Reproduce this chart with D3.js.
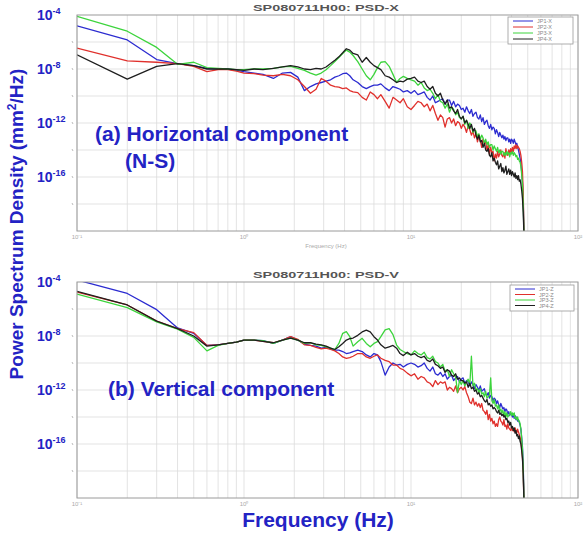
<!DOCTYPE html>
<html>
<head>
<meta charset="utf-8">
<script src="https://cdn.jsdelivr.net/npm/d3@7"></script>
<style>
  body { margin: 0; background: #fff; }
  svg { display: block; }
</style>
</head>
<body>
<svg id="chart" width="585" height="538"></svg>
<script>
// Frequency bins (Hz) shared by every spectrum
const freqHz = [
  0.1, 0.2, 0.3, 0.4, 0.5, 0.6, 0.7, 0.8, 0.9, 1.0,
  1.15, 1.3, 1.5, 1.7, 1.9, 2.1, 2.3, 2.5, 2.7, 2.9, 3.1, 3.3, 3.5, 3.7, 3.9,
  4.1, 4.3, 4.5, 4.8, 5.1, 5.4, 5.7, 6.0, 6.3, 6.6, 7.0, 7.4, 7.8, 8.2, 8.6, 9.0, 9.5, 10,
  10.5, 11, 11.5, 12, 12.5, 13, 13.5, 14, 14.5, 15,
  15.5, 16, 16.5, 17, 17.5, 18, 18.5, 19, 19.5, 20,
  20.5, 21, 21.5, 22, 22.5, 23, 23.5, 24, 24.5, 25,
  25.5, 26, 26.5, 27, 27.5, 28, 28.5, 29, 29.5, 30,
  30.5, 31, 31.5, 32, 32.5, 33, 33.5, 34, 34.5, 35,
  35.5, 36, 36.5, 37, 37.5, 38, 38.5, 39, 39.5, 40,
  40.5, 41, 41.5, 42, 42.5, 43, 43.5, 44, 44.5, 45,
  45.5, 46, 46.5, 47, 47.5
];

// Horizontal (N-S) component, log10 of PSD in mm^2/Hz
const psdX_JP1 = [
  -4.8, -5.85, -7.3, -7.6, -7.75, -7.95, -8.0, -8.0, -8.1, -8.2,
  -8.3, -8.4, -8.7, -8.3, -8.25, -8.6, -9.6, -9.3, -9.1, -9.0, -8.9, -8.8, -8.6, -8.5, -8.35,
  -8.3, -8.5, -8.8, -9.0, -9.3, -9.45, -9.3, -9.2, -9.2, -9.1, -9.4, -9.6, -9.3, -9.4, -9.5, -9.7, -9.6, -9.8,
  -9.6, -9.9, -9.8, -9.7, -10.1, -10.3, -10.0, -10.5, -10.4, -10.3,
  -10.2, -10.6, -10.3, -10.3, -10.7, -10.4, -10.8, -10.6, -10.7, -11.0,
  -10.9, -11.2, -10.8, -11.1, -11.3, -11.0, -11.5, -11.3, -11.2, -11.6,
  -11.7, -11.4, -11.9, -11.6, -12.1, -11.9, -11.8, -12.2, -12.4, -12.1,
  -12.5, -12.3, -12.4, -12.8, -12.5, -12.7, -13.0, -12.7, -12.9, -13.1,
  -12.9, -13.2, -13.0, -13.3, -13.1, -13.1, -13.4, -13.2, -13.5, -13.2,
  -13.3, -13.5, -13.2, -13.4, -13.6, -13.5, -13.8, -14.0, -14.3, -14.6,
  -15.0, -15.6, -16.4, -17.8, -20.5
];
const psdX_JP2 = [
  -6.45, -7.4, -7.5, -7.6, -7.8, -8.2, -8.05, -8.05, -8.15, -8.3,
  -8.35, -8.45, -8.5, -8.4, -8.5, -8.8, -9.3, -9.8, -9.5, -8.7, -8.9, -9.2, -9.3, -9.35, -9.45,
  -9.4, -9.6, -9.7, -9.75, -10.1, -10.3, -9.7, -9.9, -10.2, -9.9, -10.4, -10.9, -10.1, -10.3, -10.5, -10.2, -10.8, -11.0,
  -10.7, -10.4, -10.5, -10.8, -10.6, -11.1, -10.7, -11.3, -11.8, -11.4,
  -11.6, -12.3, -11.7, -11.6, -12.0, -11.7, -12.2, -11.9, -12.0, -12.4,
  -12.1, -12.3, -12.7, -12.2, -12.5, -12.9, -12.6, -13.1, -12.8, -13.4,
  -13.0, -13.3, -13.8, -13.2, -13.5, -13.4, -14.0, -13.6, -14.3, -13.8,
  -14.2, -14.1, -14.8, -14.3, -14.6, -14.1, -14.5, -14.3, -14.0, -14.4,
  -14.5, -14.2, -14.6, -13.9, -14.3, -14.4, -14.0, -14.3, -13.9, -14.2,
  -13.8, -14.1, -13.7, -13.9, -13.6, -13.9, -13.7, -13.8, -13.9, -14.1,
  -14.4, -14.9, -15.6, -17.2, -20.5
];
const psdX_JP3 = [
  -4.1, -5.2, -6.4, -7.65, -7.5, -7.9, -7.95, -8.0, -8.05, -8.05,
  -8.0, -8.0, -7.95, -7.85, -7.8, -7.95, -8.1, -8.3, -8.45, -8.3, -8.05, -7.75, -7.45, -7.15, -6.85,
  -6.6, -6.75, -7.0, -7.45, -8.0, -8.5, -8.8, -8.4, -7.9, -7.5, -7.45, -7.8, -8.4, -9.0, -8.7, -8.55, -8.7, -8.8,
  -8.9, -9.2, -9.0, -9.4, -9.6, -9.5, -9.8, -10.2, -9.9, -10.4,
  -10.5, -10.9, -10.6, -11.2, -10.8, -11.0, -11.4, -11.2, -11.6, -11.7,
  -11.5, -12.1, -11.8, -12.4, -12.0, -12.2, -12.7, -12.5, -12.6, -13.0,
  -12.8, -13.2, -12.9, -13.1, -13.5, -13.2, -13.6, -13.4, -13.8, -13.6,
  -13.6, -14.0, -13.7, -13.9, -14.1, -13.8, -14.2, -14.0, -14.3, -14.1,
  -14.1, -14.4, -14.2, -14.4, -14.1, -14.3, -14.2, -14.5, -14.2, -14.3,
  -14.1, -14.4, -14.2, -14.3, -14.5, -14.4, -14.7, -14.6, -14.8, -14.9,
  -15.2, -15.8, -16.6, -18.0, -20.5
];
const psdX_JP4 = [
  -6.95, -8.75, -7.8, -7.6, -7.75, -8.0, -8.0, -8.0, -8.05, -8.1,
  -8.0, -8.05, -7.95, -7.85, -7.75, -7.85, -8.0, -8.05, -7.95, -8.0, -7.85, -7.6, -7.35, -7.1, -6.8,
  -6.5, -6.6, -6.85, -6.95, -7.5, -7.15, -7.5, -7.75, -7.9, -8.05, -8.5, -8.6, -8.8, -9.0, -8.9, -8.95, -8.75, -8.7,
  -8.6, -8.9, -9.0, -8.9, -9.3, -9.5, -9.3, -9.8, -10.0, -9.8,
  -10.3, -10.6, -10.3, -10.9, -10.8, -11.1, -11.3, -11.0, -11.5, -11.7,
  -11.5, -12.0, -11.8, -12.1, -12.4, -12.1, -12.6, -12.4, -12.9, -13.2,
  -12.9, -13.4, -13.3, -13.8, -13.5, -14.0, -14.1, -13.9, -14.4, -14.5,
  -14.2, -14.8, -14.6, -14.9, -15.1, -14.8, -15.4, -15.2, -15.0, -15.6,
  -15.3, -15.7, -15.5, -15.2, -15.8, -15.6, -15.4, -15.8, -15.5, -15.9,
  -15.6, -15.8, -16.0, -15.7, -16.1, -15.9, -16.2, -15.9, -16.3, -16.2,
  -16.5, -17.0, -17.6, -18.6, -20.5
];

// Vertical component, log10 of PSD in mm^2/Hz
const psdV_JP1 = [
  -3.85, -4.85, -6.05, -7.4, -7.8, -8.7, -8.65, -8.55, -8.45, -8.3,
  -8.3, -8.35, -8.55, -8.3, -8.05, -8.3, -8.6, -8.7, -8.75, -8.9, -8.85, -8.95, -9.05, -9.05, -9.15,
  -9.3, -9.25, -9.15, -9.05, -9.15, -9.4, -9.55, -9.3, -9.4, -9.9, -10.9, -10.3, -10.0, -10.15, -10.1, -10.3, -10.1, -10.0,
  -10.1, -10.3, -10.2, -10.0, -10.4, -10.6, -10.3, -10.8, -10.9, -10.7,
  -11.0, -10.8, -11.2, -11.0, -10.9, -11.3, -11.1, -11.0, -11.4, -11.2,
  -11.1, -11.5, -11.3, -11.4, -11.7, -11.4, -11.6, -11.9, -11.6, -11.8,
  -12.0, -11.7, -12.1, -12.0, -11.9, -12.3, -12.4, -12.2, -12.6, -12.4,
  -12.5, -12.8, -12.6, -12.7, -13.0, -12.8, -13.1, -13.3, -13.0, -13.2,
  -13.4, -13.3, -13.6, -13.4, -13.5, -13.8, -13.6, -13.9, -13.7, -13.8,
  -14.0, -13.8, -14.1, -13.9, -14.2, -14.0, -14.3, -14.2, -14.4, -14.6,
  -14.9, -15.5, -16.2, -17.5, -20.5
];
const psdV_JP2 = [
  -4.75, -5.7, -6.9, -7.45, -7.75, -8.7, -8.65, -8.55, -8.45, -8.3,
  -8.3, -8.4, -8.5, -8.3, -8.05, -8.25, -8.65, -8.7, -8.85, -8.95, -8.9, -9.0, -9.1, -9.3, -9.55,
  -9.65, -9.6, -9.5, -9.3, -9.3, -9.55, -9.65, -9.5, -9.4, -9.65, -9.8, -9.9, -10.15, -10.15, -10.4, -10.5, -10.75, -10.95,
  -10.8, -11.2, -11.0, -11.1, -11.4, -11.5, -11.75, -11.3, -11.6, -11.4,
  -11.5, -11.4, -12.0, -11.8, -11.9, -12.1, -11.7, -12.2, -11.9, -11.8,
  -12.0, -11.75, -12.2, -12.5, -12.9, -13.0, -12.6, -13.1, -12.9, -13.2,
  -13.0, -13.3, -13.0, -13.5, -13.6, -13.8, -13.5, -14.2, -13.8, -14.3,
  -14.1, -14.5, -14.3, -14.7, -14.5, -14.7, -14.2, -14.0, -14.3, -14.4,
  -14.6, -14.2, -14.7, -14.6, -14.9, -14.5, -14.8, -14.9, -15.0, -14.7,
  -15.0, -14.9, -15.1, -14.8, -15.0, -15.2, -14.9, -15.1, -15.3, -15.5,
  -15.8, -16.3, -17.0, -18.2, -20.5
];
const psdV_JP3 = [
  -4.9, -5.9, -6.95, -7.5, -8.1, -9.1, -8.7, -8.55, -8.45, -8.3,
  -8.3, -8.35, -8.55, -8.3, -8.15, -8.3, -8.55, -8.5, -8.65, -8.7, -8.8, -8.9, -9.0, -8.55, -7.8,
  -7.68, -8.05, -8.75, -8.42, -8.17, -8.55, -8.8, -8.55, -8.42, -8.05, -7.55, -7.45, -7.9, -8.67, -9.0, -9.15, -9.3, -9.4,
  -9.1, -9.3, -9.4, -9.2, -9.6, -9.7, -9.5, -9.9, -10.0, -10.3,
  -10.1, -10.6, -10.5, -11.0, -10.5, -10.8, -11.0, -12.2, -11.3, -11.6,
  -11.3, -11.7, -11.4, -11.2, -11.6, -9.5, -11.7, -11.5, -12.0, -11.9,
  -12.2, -11.9, -12.3, -12.2, -12.5, -12.1, -12.6, -12.5, -12.4, -11.1,
  -12.8, -13.0, -12.7, -13.2, -13.1, -13.4, -13.1, -13.6, -13.4, -13.7,
  -13.5, -13.9, -13.6, -14.0, -13.7, -14.0, -13.9, -13.8, -13.6, -13.9,
  -13.7, -13.9, -13.7, -14.1, -14.0, -14.2, -14.0, -14.3, -14.3, -14.5,
  -14.9, -15.6, -16.4, -17.8, -20.5
];
const psdV_JP4 = [
  -4.7, -5.7, -6.9, -7.45, -8.0, -8.75, -8.65, -8.55, -8.45, -8.3,
  -8.3, -8.4, -8.5, -8.3, -8.15, -8.3, -8.5, -8.5, -8.6, -8.65, -8.75, -8.9, -9.0, -8.8, -8.55,
  -8.3, -8.2, -8.15, -7.95, -7.7, -7.56, -7.7, -8.05, -8.3, -8.65, -8.9, -8.8, -8.7, -8.9, -9.3, -9.45, -9.2, -9.4,
  -9.3, -9.5, -9.6, -9.5, -9.8, -9.9, -9.7, -10.1, -10.2, -10.4,
  -10.3, -10.7, -10.5, -10.6, -10.9, -11.0, -10.8, -11.2, -11.1, -11.3,
  -11.3, -11.5, -11.4, -11.8, -11.5, -11.9, -11.8, -12.1, -12.0, -12.3,
  -12.2, -12.5, -12.4, -12.6, -12.8, -12.9, -12.7, -13.1, -13.0, -13.2,
  -13.1, -13.4, -13.3, -13.4, -13.6, -13.7, -13.5, -13.8, -13.7, -13.9,
  -13.8, -14.0, -13.9, -14.2, -14.1, -14.4, -14.3, -14.6, -14.4, -14.8,
  -14.7, -15.0, -14.8, -15.2, -15.0, -15.4, -15.3, -15.6, -15.4, -15.8,
  -16.0, -16.5, -17.1, -18.2, -20.5
];

const stationColors = ["#2b2bd0", "#e0302c", "#3cd43c", "#1e1e1e"];
const xTickLabels = ["10\u207B\u00B9", "10\u2070", "10\u00B9", "10\u00B2"];
const yLabelExponents = [-4, -8, -12, -16];

const panels = [
  {
    title: "SP080711H00: PSD-X", top: 15, bottom: 231,
    names: ["JP1-X", "JP2-X", "JP3-X", "JP4-X"],
    values: [psdX_JP1, psdX_JP2, psdX_JP3, psdX_JP4],
    legend: { x: 508, y: 17, w: 65, h: 27, step: 6 },
    notes: [{ t: "(a) Horizontal component", x: 95, y: 141 }, { t: "(N-S)", x: 125, y: 168 }],
    smallXLabel: true
  },
  {
    title: "SP080711H00: PSD-V", top: 282, bottom: 498,
    names: ["JP1-Z", "JP2-Z", "JP3-Z", "JP4-Z"],
    values: [psdV_JP1, psdV_JP2, psdV_JP3, psdV_JP4],
    legend: { x: 510, y: 285, w: 64, h: 26, step: 5.5 },
    notes: [{ t: "(b) Vertical component", x: 108, y: 396 }],
    smallXLabel: false
  }
];

const svg = d3.select("#chart");
const left = 77, right = 578;
const blue = "#2323c4";
const x = d3.scaleLog().domain([0.1, 100]).range([left, right]);

panels.forEach((p, pi) => {
  const y = d3.scaleLog().domain([1e-20, 1e-4]).range([p.bottom, p.top]);
  const g = svg.append("g");

  // grid
  g.selectAll(".vg").data(x.ticks()).join("line")
    .attr("x1", d => x(d)).attr("x2", d => x(d))
    .attr("y1", p.top).attr("y2", p.bottom)
    .attr("stroke", "#dcdcdc").attr("stroke-width", 0.8);
  const hGrid = d3.range(-18, -4, 2).map(e => Math.pow(10, e));
  g.selectAll(".hg").data(hGrid).join("line")
    .attr("x1", left).attr("x2", right)
    .attr("y1", d => y(d)).attr("y2", d => y(d))
    .attr("stroke", "#dcdcdc").attr("stroke-width", 0.8);

  // tiny tick marks on the left edge
  g.selectAll(".tk").data(hGrid).join("line")
    .attr("x1", left - 5).attr("x2", left - 4)
    .attr("y1", d => y(d) - 1).attr("y2", d => y(d) + 1)
    .attr("stroke", "#aaa").attr("stroke-width", 0.8);

  // spectra
  const clipId = "clip" + pi;
  svg.append("clipPath").attr("id", clipId).append("rect")
    .attr("x", left).attr("y", p.top).attr("width", right - left).attr("height", p.bottom - p.top);
  const line = d3.line()
    .x((d, i) => x(freqHz[i]))
    .y(d => y(Math.pow(10, d)));
  p.values.forEach((vals, si) => {
    g.append("path")
      .attr("clip-path", `url(#${clipId})`)
      .attr("d", line(vals))
      .attr("fill", "none")
      .attr("stroke", stationColors[si])
      .attr("stroke-width", 1.3)
      .attr("stroke-linejoin", "round");
  });

  // frame
  g.append("rect").attr("x", left).attr("y", p.top)
    .attr("width", right - left).attr("height", p.bottom - p.top)
    .attr("fill", "none").attr("stroke", "#9a9a9a").attr("stroke-width", 1);

  // title
  g.append("text").attr("x", 326).attr("y", p.top - 4)
    .attr("text-anchor", "middle")
    .attr("font-family", "Liberation Sans, Arial, sans-serif")
    .attr("font-size", 8.5).attr("font-weight", "bold")
    .attr("fill", "#555")
    .attr("textLength", 146).attr("lengthAdjust", "spacingAndGlyphs")
    .text(p.title);

  // small x tick labels
  [0.1, 1, 10, 100].forEach((f, i) => {
    g.append("text").attr("x", x(f)).attr("y", p.bottom + 8)
      .attr("text-anchor", "middle")
      .attr("font-family", "Liberation Sans, Arial, sans-serif")
      .attr("font-size", 6).attr("fill", "#aaa")
      .text(xTickLabels[i]);
  });
  if (p.smallXLabel) {
    g.append("text").attr("x", 326).attr("y", p.bottom + 17)
      .attr("text-anchor", "middle")
      .attr("font-family", "Liberation Sans, Arial, sans-serif")
      .attr("font-size", 6).attr("fill", "#aaa")
      .text("Frequency (Hz)");
  }

  // large y labels
  yLabelExponents.forEach(e => {
    const t = g.append("text").attr("x", 37).attr("y", y(Math.pow(10, e)) + 5)
      .attr("font-family", "Liberation Sans, Arial, sans-serif")
      .attr("font-weight", "bold").attr("font-size", 14).attr("fill", blue);
    t.append("tspan").text("10");
    t.append("tspan").attr("font-size", 9).attr("dy", -6).text(String(e));
  });

  // legend
  const L = p.legend;
  g.append("rect").attr("x", L.x).attr("y", L.y).attr("width", L.w).attr("height", L.h)
    .attr("fill", "#fff").attr("stroke", "#999").attr("stroke-width", 0.8);
  p.names.forEach((n, i) => {
    const yy = L.y + 4 + i * L.step;
    g.append("line").attr("x1", L.x + 5).attr("x2", L.x + 25)
      .attr("y1", yy).attr("y2", yy)
      .attr("stroke", stationColors[i]).attr("stroke-width", 1);
    g.append("text").attr("x", L.x + 29).attr("y", yy + 2)
      .attr("font-family", "Liberation Sans, Arial, sans-serif")
      .attr("font-size", 5.5).attr("fill", "#888")
      .text(n);
  });

  // component notes
  p.notes.forEach(nt => {
    g.append("text").attr("x", nt.x).attr("y", nt.y)
      .attr("font-family", "Liberation Sans, Arial, sans-serif")
      .attr("font-weight", "bold").attr("font-size", 21).attr("fill", blue)
      .text(nt.t);
  });
});

// axis titles
const yTitle = svg.append("text")
  .attr("transform", "translate(23,224) rotate(-90)")
  .attr("text-anchor", "middle")
  .attr("font-family", "Liberation Sans, Arial, sans-serif")
  .attr("font-weight", "bold").attr("font-size", 19).attr("fill", blue);
yTitle.append("tspan").text("Power Spectrum Density (mm");
yTitle.append("tspan").attr("font-size", 12).attr("dy", -7).text("2");
yTitle.append("tspan").attr("dy", 7).text("/Hz)");

svg.append("text").attr("x", 318).attr("y", 527)
  .attr("text-anchor", "middle")
  .attr("font-family", "Liberation Sans, Arial, sans-serif")
  .attr("font-weight", "bold").attr("font-size", 21).attr("fill", blue)
  .text("Frequency (Hz)");
</script>
</body>
</html>
